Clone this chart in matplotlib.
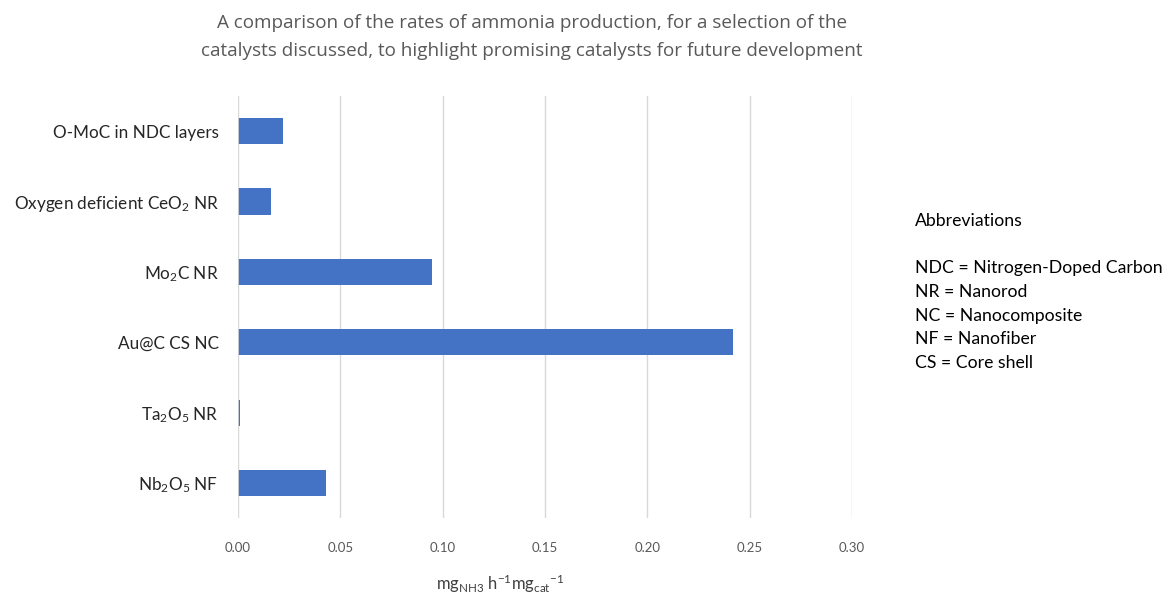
import matplotlib
matplotlib.use("Agg")
import matplotlib.pyplot as plt

categories = [
    "Nb$_2$O$_5$ NF",
    "Ta$_2$O$_5$ NR",
    "Au@C CS NC",
    "Mo$_2$C NR",
    "Oxygen deficient CeO$_2$ NR",
    "O-MoC in NDC layers",
]
rates = [0.043, 0.001, 0.242, 0.095, 0.016, 0.022]
xticks = [0.00, 0.05, 0.10, 0.15, 0.20, 0.25, 0.30]
abbreviations = [
    "NDC = Nitrogen-Doped Carbon",
    "NR = Nanorod",
    "NC = Nanocomposite",
    "NF = Nanofiber",
    "CS = Core shell",
]

plt.rcParams['font.family'] = ['Lato', 'DejaVu Sans']
plt.rcParams['mathtext.fontset'] = 'custom'
plt.rcParams['mathtext.rm'] = 'Lato'
plt.rcParams['mathtext.it'] = 'Lato:italic'
plt.rcParams['mathtext.bf'] = 'Lato:bold'

fig = plt.figure(figsize=(11.63, 5.94), dpi=100)
ax = fig.add_axes([0.2046, 0.1279, 0.5280, 0.7105])

y = list(range(len(categories)))
ax.barh(y, rates, height=0.37, color="#4472C4", zorder=3)
ax.set_yticks(y)
ax.set_yticklabels(categories, fontsize=12.3, color="#262626")
ax.set_ylim(-0.5, len(categories) - 0.5)
ax.set_xlim(0, 0.30)
ax.set_xticks(xticks)
ax.set_xticklabels([f"{v:.2f}" for v in xticks], fontsize=9.5, color="#595959")
ax.tick_params(axis='y', length=0, pad=14)
ax.tick_params(axis='x', length=0, pad=17)
ax.grid(axis='x', color="#D9D9D9", linewidth=1, zorder=0)
for s in ax.spines.values():
    s.set_visible(False)
ax.axvline(0, color="#D9D9D9", linewidth=1.2, zorder=4)

fig.text(500/1163, 1 - 584/594,
         r"mg$_{\mathrm{NH3}}$ h$^{-1}$mg$_{\mathrm{cat}}$$^{-1}$",
         ha='center', va='center', fontsize=12, color="#404040")

fig.text(532/1163, 1 - 14/594,
         "A comparison of the rates of ammonia production, for a selection of the\n"
         "catalysts discussed, to highlight promising catalysts for future development",
         ha='center', va='top', fontsize=13.6, color="#595959",
         family=['Open Sans', 'DejaVu Sans'], linespacing=1.7)

fig.text(915/1163, 1 - 221/594, "Abbreviations", ha='left', va='center',
         fontsize=12.7, color="#000000")
for i, line in enumerate(abbreviations):
    fig.text(915/1163, 1 - (268 + 23.8 * i)/594, line, ha='left', va='center',
             fontsize=12.7, color="#000000")

fig.savefig("out.png", dpi=100)
